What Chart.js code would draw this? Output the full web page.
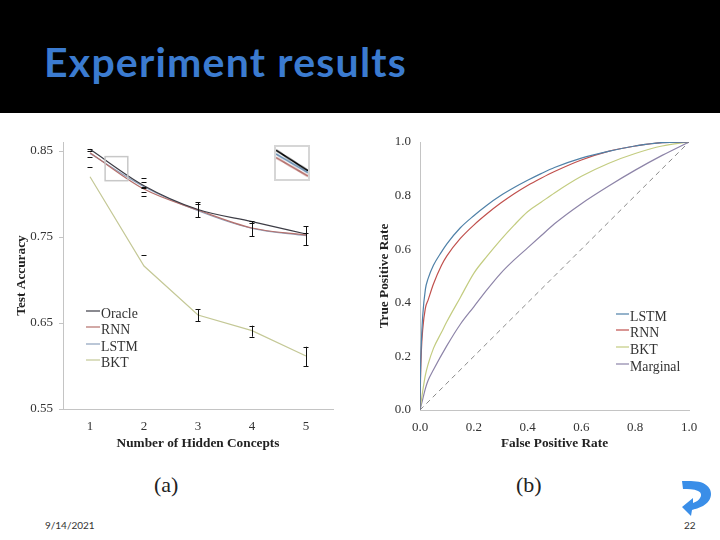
<!DOCTYPE html>
<html>
<head>
<meta charset="utf-8">
<title>Experiment results</title>
<script src="https://cdn.jsdelivr.net/npm/chart.js@4/dist/chart.umd.min.js"></script>
<style>
  html, body { margin: 0; padding: 0; background: #fff; }
  #slide { position: relative; width: 720px; height: 540px; overflow: hidden; background: #fff; }
  #header { position: absolute; left: 0; top: 0; width: 720px; height: 113px; background: #000; }
  #header h1 { position: absolute; left: 44px; top: 38px; margin: 0; font: bold 41px/48px Lato, sans-serif; letter-spacing: 1.2px; color: #3b7bd0; white-space: nowrap; }
  canvas { position: absolute; }
  #chartA { left: 0; top: 120px; }
  #chartB { left: 360px; top: 120px; }
  #inset { left: 274px; top: 145px; border: 2px solid #d6d6d6; }
  .cap { position: absolute; top: 471px; font: 22px/28px "Liberation Serif", serif; color: #222; }
  .foot { position: absolute; top: 518px; font: 10px/14px Lato, sans-serif; color: #333; }
  #arrow { position: absolute; left: 0; top: 0; }
</style>
</head>
<body>
<div id="slide">
  <div id="header"><h1>Experiment results</h1></div>
  <canvas id="chartA" width="360" height="340"></canvas>
  <canvas id="chartB" width="360" height="340"></canvas>
  <canvas id="inset" width="36" height="36"></canvas>
  <div class="cap" style="left:154px">(a)</div>
  <div class="cap" style="left:516px">(b)</div>
  <div class="foot" style="left:45px">9/14/2021</div>
  <div class="foot" style="left:684px">22</div>
  <svg id="arrow" width="720" height="540">
    <path fill="#3a8ee8" d="M682 481 C690 481 698 481 703 483 C709 486 711 490 711 494 C711 499 708 503 703 506 C699 508 695 509 692 510 L691 516 L682 507 L693 498 L693 503 C696 502 699 500 700 498 C702 495 701 492 698 491 C694 489 688 489 683 489 Z"/>
  </svg>
</div>
<script>
// (a) test accuracy vs number of hidden concepts
const concepts = [1, 2, 3, 4, 5];
const oracle = [0.852, 0.8097, 0.782, 0.768, 0.7535];
const rnn = [0.848, 0.8058, 0.7814, 0.7605, 0.7523];
const lstm = [0.847, 0.8085, 0.7805, 0.76, 0.7515];
const bkt = [0.8201, 0.7163, 0.6593, 0.6411, 0.6116];
const accTicks = [0.55, 0.65, 0.75, 0.85];

// error bars: concept, low, high
const errConcept = [3, 4, 5, 3, 4, 5];
const errLow = [0.7729, 0.7512, 0.7407, 0.652, 0.6341, 0.6];
const errHigh = [0.7903, 0.7686, 0.7628, 0.6663, 0.6469, 0.6224];
// caps that have no visible stem in the picture
const capConcept = [1, 1, 1, 1, 2, 2, 2, 2, 2, 2, 2, 3, 4, 5];
const capValue = [0.852, 0.8503, 0.8427, 0.831, 0.8183, 0.814, 0.8085, 0.8066, 0.802, 0.7977, 0.7291, 0.7884, 0.7663, 0.7547];

// zoom window drawn on chart (a)
const zoomBoxX = [1.28, 1.7];
const zoomBoxY = [0.8155, 0.8435];

// inset: the same lines blown up, 0-1 both ways
const insetX = [0, 1];
const insetOracle = [0.9, 0.26];
const insetLstm = [0.78, 0.2];
const insetRnn = [0.67, 0.09];

// (b) ROC curves
const lstmFpr = [0, 0.002, 0.005, 0.01, 0.02, 0.03, 0.05, 0.08, 0.1, 0.15, 0.2, 0.25, 0.3, 0.35, 0.4, 0.45, 0.5, 0.6, 0.7, 0.8, 0.9, 1];
const lstmTpr = [0, 0.15, 0.25, 0.35, 0.45, 0.49, 0.54, 0.59, 0.62, 0.68, 0.725, 0.765, 0.8, 0.83, 0.857, 0.882, 0.905, 0.94, 0.965, 0.985, 0.998, 1];
const rnnFpr = [0, 0.002, 0.005, 0.01, 0.02, 0.03, 0.05, 0.08, 0.1, 0.15, 0.2, 0.25, 0.3, 0.35, 0.4, 0.45, 0.5, 0.6, 0.7, 0.8, 0.9, 1];
const rnnTpr = [0, 0.12, 0.22, 0.3, 0.38, 0.41, 0.47, 0.54, 0.575, 0.64, 0.69, 0.733, 0.772, 0.807, 0.838, 0.865, 0.89, 0.933, 0.965, 0.985, 0.998, 1];
const bktFpr = [0, 0.01, 0.02, 0.03, 0.05, 0.08, 0.1, 0.15, 0.2, 0.25, 0.3, 0.35, 0.4, 0.45, 0.5, 0.6, 0.7, 0.8, 0.9, 1];
const bktTpr = [0, 0.07, 0.13, 0.17, 0.23, 0.29, 0.33, 0.42, 0.51, 0.575, 0.635, 0.69, 0.74, 0.775, 0.81, 0.872, 0.92, 0.957, 0.985, 1];
const margFpr = [0, 0.01, 0.02, 0.03, 0.05, 0.1, 0.15, 0.2, 0.25, 0.3, 0.35, 0.4, 0.45, 0.5, 0.6, 0.7, 0.8, 0.9, 1];
const margTpr = [0, 0.04, 0.08, 0.11, 0.15, 0.24, 0.32, 0.385, 0.45, 0.51, 0.56, 0.605, 0.65, 0.695, 0.77, 0.835, 0.895, 0.95, 1];
const diagonal = [0, 1];
const rateTicks = [0, 0.2, 0.4, 0.6, 0.8, 1];

const serif = '"Liberation Serif", serif';
const axisGrey = "#c4c4c4";
const pts = (xs, ys) => xs.map((x, i) => ({ x: x, y: ys[i] }));

function line(label, xs, ys, color, smooth) {
  const d = { label: label, data: pts(xs, ys), borderColor: color, borderWidth: 1.2, pointRadius: 0 };
  if (smooth) d.cubicInterpolationMode = "monotone";
  return d;
}

// legend drawn inside the plot area, names and colours come from the datasets
function insideLegend(opts) {
  return {
    id: "insideLegend",
    afterDatasetsDraw(chart) {
      const c = chart.ctx;
      c.save();
      c.font = "13.8px " + serif;
      c.textBaseline = "middle";
      chart.data.datasets.filter(d => d.label).forEach((d, i) => {
        const y = opts.y[i];
        c.strokeStyle = d.borderColor;
        c.lineWidth = 1.2;
        c.beginPath();
        c.moveTo(opts.x0, y - 3);
        c.lineTo(opts.x1, y - 3);
        c.stroke();
        c.fillStyle = "#333";
        c.fillText(d.label, opts.x1 + 1, y);
      });
      c.restore();
    }
  };
}

const errorBars = {
  id: "errorBars",
  afterDatasetsDraw(chart) {
    const c = chart.ctx, sx = chart.scales.x, sy = chart.scales.y;
    c.save();
    c.strokeStyle = "#111";
    c.lineWidth = 1;
    const cap = (k, v) => {
      const px = sx.getPixelForValue(k), py = Math.round(sy.getPixelForValue(v)) + 0.5;
      c.beginPath();
      c.moveTo(px - 2.5, py);
      c.lineTo(px + 2.5, py);
      c.stroke();
    };
    errConcept.forEach((k, i) => {
      const px = Math.round(sx.getPixelForValue(k)) + 0.5;
      c.beginPath();
      c.moveTo(px, sy.getPixelForValue(errLow[i]));
      c.lineTo(px, sy.getPixelForValue(errHigh[i]));
      c.stroke();
      cap(k, errLow[i]);
      cap(k, errHigh[i]);
    });
    capConcept.forEach((k, i) => cap(k, capValue[i]));
    // zoom window
    c.strokeStyle = "#c8c8c8";
    c.lineWidth = 1.5;
    const x0 = sx.getPixelForValue(zoomBoxX[0]), x1 = sx.getPixelForValue(zoomBoxX[1]);
    const y0 = sy.getPixelForValue(zoomBoxY[1]), y1 = sy.getPixelForValue(zoomBoxY[0]);
    c.strokeRect(x0, y0, x1 - x0, y1 - y0);
    c.restore();
  }
};

function axis(min, max, tickValues, fmt, title, isY, titlePad, size, tickLen, tickPad) {
  return {
    type: "linear",
    min: min,
    max: max,
    afterBuildTicks(s) { s.ticks = tickValues.map(v => ({ value: v })); },
    afterFit(s) { if (isY) s.width = size; else s.height = size; },
    border: { color: axisGrey },
    grid: { drawOnChartArea: false, drawTicks: tickLen > 0, tickLength: tickLen, color: axisGrey },
    ticks: { autoSkip: false, maxRotation: 0, color: "#333", font: { family: serif, size: 13 }, padding: tickPad, callback: fmt },
    title: { display: true, text: title, color: "#222", font: { family: serif, size: 13.3, weight: "bold" }, padding: titlePad }
  };
}

const baseOpts = {
  responsive: false,
  animation: false,
  devicePixelRatio: 1,
  plugins: { legend: { display: false }, tooltip: { enabled: false } }
};

new Chart(document.getElementById("chartA"), {
  type: "line",
  data: {
    datasets: [
      line("Oracle", concepts, oracle, "#3d3d46", true),
      line("RNN", concepts, rnn, "#b5706c", true),
      line("LSTM", concepts, lstm, "#8ea2bd", true),
      line("BKT", concepts, bkt, "#c4c896")
    ]
  },
  options: Object.assign({}, baseOpts, {
    layout: { padding: { left: 0, right: 27, top: 22, bottom: 0 } },
    scales: {
      x: axis(0.5, 5.5, concepts, v => String(v), "Number of Hidden Concepts", false, { top: 0, bottom: 8 }, 51, 0, 10),
      y: axis(0.55, 0.8605, accTicks, v => v.toFixed(2), "Test Accuracy", true, { top: 14, bottom: 0 }, 63, 4, 6)
    }
  }),
  plugins: [errorBars, insideLegend({ x0: 86, x1: 100, y: [194, 210, 227, 243] })]
});

new Chart(document.getElementById("chartB"), {
  type: "line",
  data: {
    datasets: [
      line("LSTM", lstmFpr, lstmTpr, "#4f81a8", true),
      line("RNN", rnnFpr, rnnTpr, "#c0504d", true),
      line("BKT", bktFpr, bktTpr, "#c3cc80", true),
      line("Marginal", margFpr, margTpr, "#8d84a8", true),
      { data: pts(diagonal, diagonal), borderColor: "#8a8a8a", borderWidth: 1, borderDash: [5, 4], pointRadius: 0 }
    ]
  },
  options: Object.assign({}, baseOpts, {
    layout: { padding: { left: 0, right: 31, top: 22, bottom: 0 } },
    scales: {
      x: axis(0, 1, rateTicks, v => v.toFixed(1), "False Positive Rate", false, { top: 0, bottom: 8 }, 50, 0, 10),
      y: axis(0, 1, rateTicks, v => v.toFixed(1), "True Positive Rate", true, { top: 17, bottom: 0 }, 60, 0, 9)
    }
  }),
  plugins: [insideLegend({ x0: 256, x1: 269, y: [197, 213, 230, 247] })]
});

new Chart(document.getElementById("inset"), {
  type: "line",
  data: {
    datasets: [
      { data: pts(insetX, insetRnn), borderColor: "#b5706c", borderWidth: 2, pointRadius: 0 },
      { data: pts(insetX, insetLstm), borderColor: "#6f93b5", borderWidth: 2, pointRadius: 0 },
      { data: pts(insetX, insetOracle), borderColor: "#000", borderWidth: 2, pointRadius: 0 }
    ]
  },
  options: Object.assign({}, baseOpts, {
    scales: {
      x: { type: "linear", min: 0, max: 1, display: false },
      y: { min: 0, max: 1, display: false }
    }
  })
});
</script>
</body>
</html>
